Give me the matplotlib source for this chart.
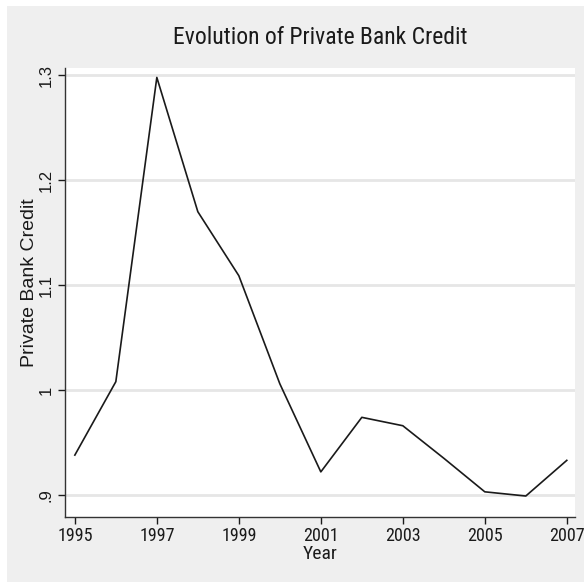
import matplotlib
matplotlib.use("Agg")
import matplotlib.pyplot as plt
from matplotlib.patches import Rectangle

years = [1995, 1996, 1997, 1998, 1999, 2000, 2001, 2002, 2003, 2004, 2005, 2006, 2007]
credit = [0.938, 1.008, 1.298, 1.170, 1.109, 1.006, 0.922, 0.974, 0.966, 0.935, 0.903, 0.899, 0.933]
x_ticks = [1995, 1997, 1999, 2001, 2003, 2005, 2007]
y_ticks = [0.9, 1.0, 1.1, 1.2, 1.3]
y_labels = [".9", "1", "1.1", "1.2", "1.3"]

plt.rcParams["font.family"] = ["Liberation Sans", "DejaVu Sans"]
narrow = ["Roboto Condensed", "Liberation Sans"]
ink = "#1a1a1a"

fig = plt.figure(figsize=(5.84, 5.82), dpi=100, facecolor="white")
# gray Stata-like background, with a thin white margin top and left
fig.patches.append(Rectangle((7 / 584, 0), 1, 1 - 6 / 582, transform=fig.transFigure,
                             facecolor="#efefef", edgecolor="none", zorder=-10))

ax = fig.add_axes([65 / 584, 1 - 517 / 582, 510 / 584, 449 / 582])
ax.set_facecolor("white")
ax.plot(years, credit, color=ink, linewidth=1.2, zorder=3)

ax.set_xlim(1994.76, 2007.2)
ax.set_ylim(0.879, 1.307)
ax.set_xticks(x_ticks)
ax.set_xticklabels([str(y) for y in x_ticks], family=narrow, fontsize=13)
ax.set_yticks(y_ticks)
ax.set_yticklabels(y_labels, rotation=90, va="center", fontsize=12)
ax.tick_params(axis="both", direction="out", length=5, width=1, colors=ink)
ax.tick_params(axis="x", pad=2)
ax.tick_params(axis="y", pad=3)
ax.grid(axis="y", color="#e6e6e6", linewidth=2)
ax.set_axisbelow(True)

for side in ["top", "right"]:
    ax.spines[side].set_visible(False)
for side in ["left", "bottom"]:
    ax.spines[side].set_color("#333333")
    ax.spines[side].set_linewidth(1)

ax.set_xlabel("Year", family=narrow, fontsize=14, labelpad=0, color=ink)
ax.set_ylabel("Private Bank Credit", fontsize=14, labelpad=1, y=0.523, color=ink)
ax.set_title("Evolution of Private Bank Credit", family=narrow, fontsize=17,
             pad=17, color=ink)

fig.savefig("out.png", dpi=100, facecolor=fig.get_facecolor())
